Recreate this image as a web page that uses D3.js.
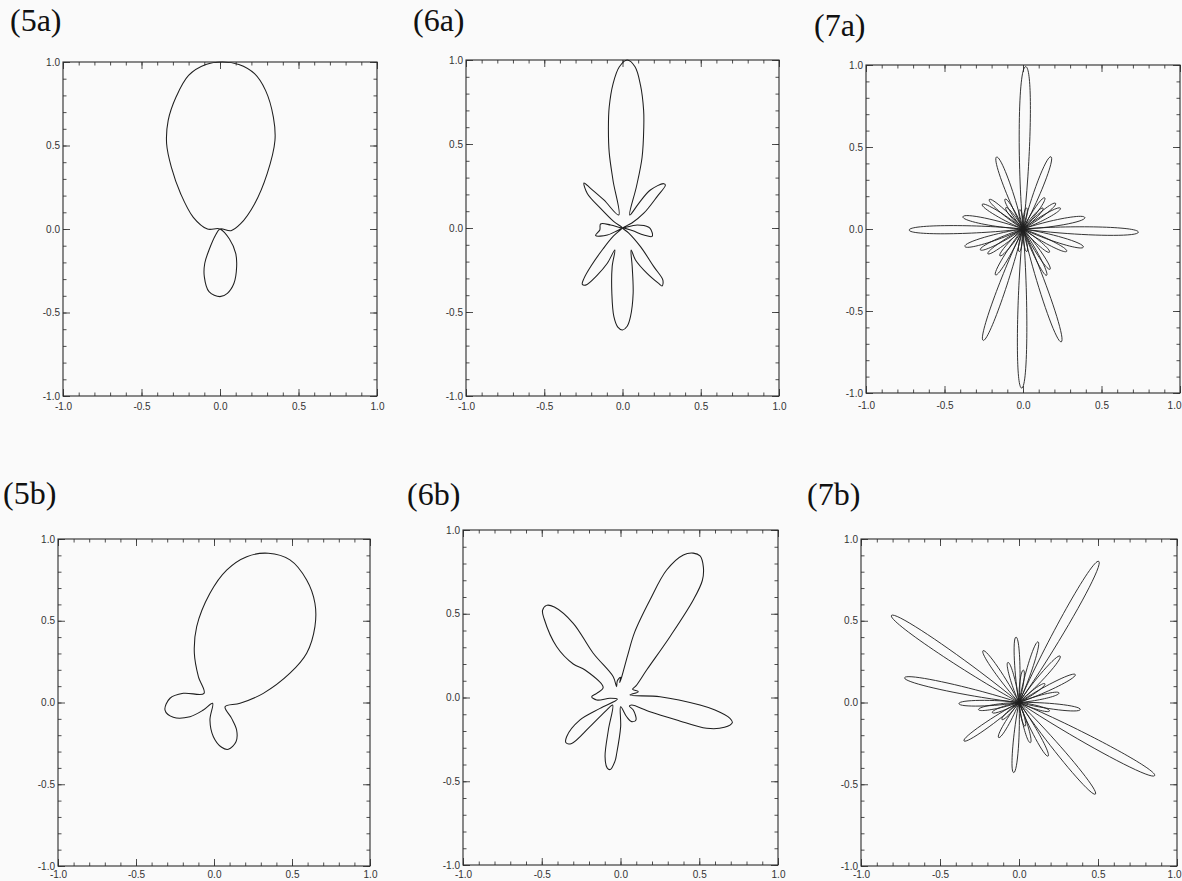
<!DOCTYPE html>
<html><head><meta charset="utf-8">
<script src="https://cdn.jsdelivr.net/npm/d3@7"></script>
<style>
html,body{margin:0;padding:0;background:#fafafa;}
svg{display:block;}
.ttl{font-family:"Liberation Serif","DejaVu Serif","Times New Roman",serif;}
</style></head>
<body>
<svg id="chart" width="1182" height="881"></svg>
<script>
// ---------- data (data units, x/y in [-1,1]) ----------
const tickValues = [-1, -0.5, 0, 0.5, 1];
const tickLabels = ["-1.0", "-0.5", "0.0", "0.5", "1.0"];
const panelTitles = ["(5a)", "(6a)", "(7a)", "(5b)", "(6b)", "(7b)"];

// closed pattern outlines, [x, y]
const curve5a = [[0,0],[0.07,-0.01],[0.13,0.03],[0.22,0.15],[0.30,0.33],[0.35,0.53],[0.34,0.67],[0.29,0.83],[0.22,0.93],[0.12,0.985],[0.015,1.0],[-0.09,0.985],[-0.20,0.92],[-0.28,0.79],[-0.33,0.65],[-0.34,0.51],[-0.31,0.37],[-0.25,0.21],[-0.17,0.07],[-0.08,0.0],
  [0,0],[0.06,-0.06],[0.10,-0.146],[0.106,-0.226],[0.089,-0.325],[0.047,-0.385],[0.0,-0.405],[-0.07,-0.375],[-0.10,-0.285],[-0.097,-0.205],[-0.07,-0.126],[-0.028,-0.036]];

const curve6a = [[0,0],[0.062,-0.015],[0.136,-0.042],[0.189,-0.05],[0.183,-0.012],[0.168,0.004],[0.094,0.018],
  [0,0],[0.06,0.03],[0.136,0.088],[0.221,0.187],[0.274,0.256],[0.263,0.264],[0.178,0.226],[0.104,0.147],[0.046,0.077],
  [0.09,0.25],[0.125,0.42],[0.136,0.60],[0.135,0.70],[0.115,0.85],[0.08,0.96],[0.03,1.0],[-0.02,0.96],[-0.06,0.86],[-0.085,0.72],[-0.09,0.60],[-0.085,0.45],[-0.06,0.28],[-0.024,0.077],
  [-0.119,0.167],[-0.204,0.236],[-0.246,0.268],[-0.225,0.206],[-0.14,0.117],[-0.055,0.038],
  [0,0],[-0.076,0.018],[-0.14,0.024],[-0.145,-0.012],[-0.172,-0.045],[-0.097,-0.042],[-0.034,-0.016],
  [0,0],[-0.06,-0.05],[-0.125,-0.125],[-0.2,-0.225],[-0.246,-0.30],[-0.257,-0.335],[-0.236,-0.34],[-0.161,-0.28],[-0.097,-0.21],[-0.049,-0.131],
  [-0.066,-0.23],[-0.068,-0.39],[-0.055,-0.528],[-0.03,-0.59],[0.0,-0.607],[0.03,-0.585],[0.051,-0.528],[0.068,-0.389],[0.062,-0.23],[0.055,-0.131],
  [0.083,-0.19],[0.157,-0.27],[0.231,-0.33],[0.253,-0.345],[0.258,-0.31],[0.2,-0.23],[0.115,-0.111],[0.04,-0.03]];

const curve5b = [[0.071,-0.026],[0.167,-0.005],[0.316,0.056],[0.487,0.179],[0.594,0.301],[0.647,0.464],[0.647,0.607],[0.594,0.749],[0.487,0.872],[0.348,0.913],[0.21,0.892],[0.081,0.81],[-0.026,0.668],[-0.111,0.464],[-0.126,0.301],[-0.1,0.158],[-0.064,0.056],
  [-0.197,0.056],[-0.282,0.026],[-0.314,-0.046],[-0.261,-0.09],[-0.154,-0.087],[-0.068,-0.046],[-0.009,-0.005],
  [-0.026,-0.107],[-0.004,-0.209],[0.049,-0.274],[0.092,-0.286],[0.141,-0.24],[0.145,-0.168],[0.113,-0.097]];

const curve6b = [[0.071,-0.045],[0.187,-0.085],[0.357,-0.134],[0.547,-0.184],[0.66,-0.178],[0.71,-0.15],[0.695,-0.124],[0.6,-0.075],[0.505,-0.045],[0.251,0.005],[0.06,0.015],
  [0.113,0.035],[0.077,0.049],[0.098,0.069],
  [0.166,0.164],[0.314,0.363],[0.462,0.582],[0.52,0.70],[0.526,0.78],[0.505,0.845],[0.462,0.862],[0.399,0.851],[0.293,0.761],[0.187,0.582],[0.09,0.39],[0.045,0.25],[0.008,0.124],
  [-0.005,0.09],[0.0,0.12],[-0.02,0.1],[-0.025,0.065],
  [-0.046,0.124],[-0.173,0.264],[-0.3,0.443],[-0.42,0.54],[-0.47,0.55],[-0.495,0.52],[-0.485,0.47],[-0.405,0.303],[-0.3,0.2],[-0.225,0.164],[-0.11,0.06],
  [-0.151,0.025],[-0.183,0.005],[-0.151,-0.015],[-0.067,-0.005],[-0.02,-0.01],
  [-0.13,-0.065],[-0.257,-0.134],[-0.342,-0.234],[-0.346,-0.27],[-0.31,-0.274],[-0.194,-0.174],[-0.088,-0.075],[-0.05,-0.045],
  [-0.077,-0.194],[-0.098,-0.353],[-0.085,-0.42],[-0.065,-0.43],[-0.035,-0.38],[-0.024,-0.333],[0.001,-0.174],[0.001,-0.055],
  [0.039,-0.115],[0.071,-0.144],[0.098,-0.134],[0.081,-0.075],[0.056,-0.051]];

// narrow lobes: [direction (deg), peak radius, half-width]
const lobes7a = [[89,0.99,0.035],[269.5,0.97,0.03],[-1.5,0.735,0.026],[180.5,0.725,0.026],
  [68,0.475,0.022],[111,0.47,0.022],[249.5,0.725,0.026],[289.5,0.73,0.026],
  [10,0.40,0.02],[-16,0.40,0.02],[169,0.39,0.02],[196,0.385,0.02],
  [-26,0.31,0.016],[205,0.30,0.016],[150,0.30,0.016],[28,0.27,0.015],[37,0.26,0.015],[54,0.235,0.014],
  [122,0.215,0.013],[140,0.28,0.015],[238,0.33,0.016],[-55,0.30,0.015],[-62,0.32,0.015],[214,0.27,0.014],
  [130,0.17,0.012],[45,0.18,0.012],[-40,0.22,0.013],[228,0.22,0.013],[100,0.12,0.01],[80,0.13,0.01],[260,0.14,0.01],[280,0.14,0.01]];

const lobes7b = [[59.7,1.0,0.032],[146.6,0.967,0.03],[-27.5,0.968,0.03],[-49.2,0.74,0.025],[168.2,0.74,0.025],
  [181,0.38,0.018],[-6.3,0.39,0.018],[25.6,0.395,0.018],[13,0.26,0.014],[47.5,0.385,0.018],[72,0.39,0.017],
  [92.7,0.40,0.017],[125.7,0.39,0.018],[106,0.255,0.014],[214,0.42,0.018],[189.6,0.26,0.014],[239,0.25,0.014],
  [265.5,0.43,0.018],[-73.7,0.256,0.014],[-60.7,0.376,0.017],[224,0.15,0.01],[82,0.2,0.012],[35,0.2,0.012],
  [-15,0.2,0.012],[200,0.18,0.012],[285,0.15,0.01]];

// ---------- layout (pixels) ----------
const layout = [
  {left:63, right:377, top:62, bottom:396, tx:10, ty:31, lab:14, curve:curve5a},
  {left:466, right:779, top:60, bottom:396, tx:413, ty:31, lab:14, curve:curve6a},
  {left:866, right:1180, top:65, bottom:393, tx:814, ty:36, lab:16, lobes:lobes7a},
  {left:58, right:370, top:539, bottom:866, tx:3, ty:504, lab:12, curve:curve5b},
  {left:463, right:778, top:530, bottom:865, tx:407, ty:505, lab:13, curve:curve6b},
  {left:861, right:1177, top:539, bottom:866, tx:807, ty:505, lab:12, lobes:lobes7b}
];

const W = 1182;
const ink = "#1e1e1e";
const axisInk = "#3a3a3a";
const svg = d3.select("#chart");
svg.append("rect").attr("width", W).attr("height", 881).attr("fill", "#fafafa");

const minorTicks = d3.range(-10, 11).map(k => k / 10);

layout.forEach((p, i) => {
  const x = d3.scaleLinear().domain([-1, 1]).range([p.left, p.right]);
  const y = d3.scaleLinear().domain([-1, 1]).range([p.bottom, p.top]);
  const g = svg.append("g");

  svg.append("text")
    .attr("class", "ttl")
    .attr("x", p.tx).attr("y", p.ty)
    .attr("font-size", 32).attr("fill", "#111")
    .text(panelTitles[i]);

  const styleAxis = sel => {
    sel.select(".domain").remove();
    sel.selectAll("line").attr("stroke", axisInk).attr("stroke-width", 0.9);
    sel.attr("font-family", "'Liberation Sans',Arial,sans-serif").attr("font-size", 10);
    sel.selectAll("text").attr("fill", "#333");
  };

  // minor ticks, all four sides, pointing inward
  [[d3.axisBottom(x), `translate(0,${p.bottom})`], [d3.axisTop(x), `translate(0,${p.top})`],
   [d3.axisLeft(y), `translate(${p.left},0)`], [d3.axisRight(y), `translate(${p.right},0)`]]
    .forEach(([ax, tr]) => {
      g.append("g").attr("transform", tr)
        .call(ax.tickValues(minorTicks).tickSize(-3.5).tickFormat(""))
        .call(styleAxis);
    });
  // major ticks
  const bottomAxis = g.append("g").attr("transform", `translate(0,${p.bottom})`)
    .call(d3.axisBottom(x).tickValues(tickValues).tickSize(-7).tickPadding(p.lab - 7)
      .tickFormat((d, k) => tickLabels[k]))
    .call(styleAxis);
  g.append("g").attr("transform", `translate(0,${p.top})`)
    .call(d3.axisTop(x).tickValues(tickValues).tickSize(-7).tickFormat(""))
    .call(styleAxis);
  g.append("g").attr("transform", `translate(${p.left},0)`)
    .call(d3.axisLeft(y).tickValues(tickValues).tickSize(-7).tickPadding(3)
      .tickFormat((d, k) => tickLabels[k]))
    .call(styleAxis);
  g.append("g").attr("transform", `translate(${p.right},0)`)
    .call(d3.axisRight(y).tickValues(tickValues).tickSize(-7).tickFormat(""))
    .call(styleAxis);

  // keep right-most tick labels inside the page
  bottomAxis.selectAll(".tick").each(function(d) {
    const t = d3.select(this).select("text");
    const bb = this.getBBox();
    const xp = x(d);
    const halfW = t.node().getComputedTextLength() / 2;
    if (xp + halfW > W - 1) t.attr("text-anchor", "end").attr("x", (W - 1) - xp);
  });

  g.append("rect")
    .attr("x", p.left).attr("y", p.top)
    .attr("width", p.right - p.left).attr("height", p.bottom - p.top)
    .attr("fill", "none").attr("stroke", "#2a2a2a").attr("stroke-width", 1.1);

  if (p.curve) {
    const line = d3.line().x(d => x(d[0])).y(d => y(d[1]))
      .curve(d3.curveCatmullRomClosed.alpha(0.5));
    g.append("path").attr("d", line(p.curve))
      .attr("fill", "none").attr("stroke", ink).attr("stroke-width", 1.05)
      .attr("stroke-linejoin", "round");
  }

  if (p.lobes) {
    const unit = (p.right - p.left) / 2;
    p.lobes.forEach(([ang, r, w]) => {
      const a = ang * Math.PI / 180;
      const ox = x(0), oy = y(0);
      const tx = x(r * Math.cos(a)), ty = y(r * Math.sin(a));
      const L = Math.hypot(tx - ox, ty - oy);
      const ux = (tx - ox) / L, uy = (ty - oy) / L;
      const nx = -uy, ny = ux;
      const wp = w * unit;
      const path = d3.path();
      path.moveTo(ox, oy);
      path.bezierCurveTo(ox + 0.4 * L * ux + 1.26 * wp * nx, oy + 0.4 * L * uy + 1.26 * wp * ny,
                         tx + 1.4 * wp * nx, ty + 1.4 * wp * ny, tx, ty);
      path.bezierCurveTo(tx - 1.4 * wp * nx, ty - 1.4 * wp * ny,
                         ox + 0.4 * L * ux - 1.26 * wp * nx, oy + 0.4 * L * uy - 1.26 * wp * ny, ox, oy);
      g.append("path").attr("d", path.toString())
        .attr("fill", "none").attr("stroke", ink).attr("stroke-width", 0.9);
    });
  }
});
</script>
</body></html>
